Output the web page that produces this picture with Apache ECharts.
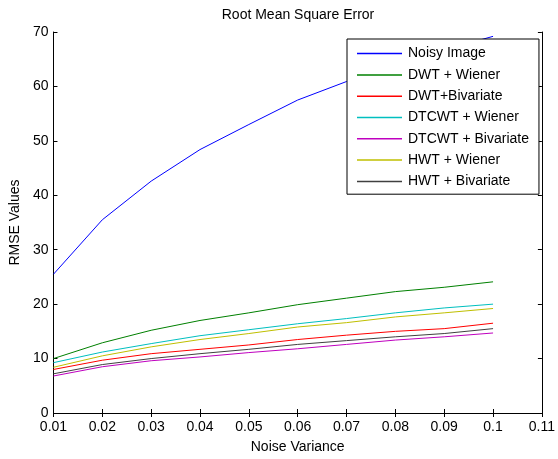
<!DOCTYPE html>
<html>
<head>
<meta charset="utf-8">
<script src="https://cdn.jsdelivr.net/npm/echarts@6/dist/echarts.min.js"></script>
<style>html,body{margin:0;padding:0;background:#fff}#c{width:558px;height:459px}</style>
</head>
<body>
<div id="c"></div>
<script>
const noiseVariance = [0.01, 0.02, 0.03, 0.04, 0.05, 0.06, 0.07, 0.08, 0.09, 0.1];
const seriesNames = ['Noisy Image', 'DWT + Wiener', 'DWT+Bivariate', 'DTCWT + Wiener', 'DTCWT + Bivariate', 'HWT + Wiener', 'HWT + Bivariate'];
const noisyImage = [25.5, 35.5, 42.6, 48.4, 53.0, 57.5, 60.9, 63.9, 66.7, 69.2];
const dwtWiener = [10.0, 12.9, 15.2, 17.0, 18.4, 19.9, 21.1, 22.3, 23.1, 24.1];
const dwtBivariate = [8.0, 9.7, 10.9, 11.7, 12.5, 13.5, 14.3, 15.0, 15.5, 16.5];
const dtcwtWiener = [9.25, 11.2, 12.75, 14.2, 15.3, 16.4, 17.35, 18.4, 19.3, 20.0];
const dtcwtBivariate = [6.8, 8.5, 9.6, 10.3, 11.1, 11.8, 12.6, 13.4, 14.0, 14.7];
const hwtWiener = [8.4, 10.5, 12.15, 13.5, 14.6, 15.8, 16.6, 17.65, 18.4, 19.2];
const hwtBivariate = [7.2, 8.9, 10.0, 10.9, 11.7, 12.6, 13.3, 14.0, 14.6, 15.5];
const xTicks = {min: 0.01, max: 0.11, interval: 0.01};
const yTicks = {min: 0, max: 70, interval: 10};

const allValues = [noisyImage, dwtWiener, dwtBivariate, dtcwtWiener, dtcwtBivariate, hwtWiener, hwtBivariate];
const colors = ['#0000ff', '#008000', '#ff0000', '#00bfbf', '#bf00bf', '#bfbf00', '#404040'];
const font = 'Liberation Sans, Arial, sans-serif';
const fs = 14;

const chart = echarts.init(document.getElementById('c'), null, {renderer: 'canvas'});
const axisCommon = {
  axisLine: {show: true, lineStyle: {color: '#000', width: 1}},
  axisTick: {show: true, inside: true, length: 4, lineStyle: {color: '#000'}},
  splitLine: {show: false}
};
chart.setOption({
  animation: false,
  backgroundColor: '#fff',
  title: {
    text: 'Root Mean Square Error', left: 293, top: 3, textAlign: 'center',
    textStyle: {fontFamily: font, fontSize: fs, fontWeight: 'normal', color: '#000'}
  },
  grid: {left: 52, top: 32, right: 14, bottom: 41, show: false},
  legend: {
    orient: 'vertical', left: 347, top: 39,
    data: seriesNames,
    icon: 'path://M0,0 L45,0 L45,1.5 L0,1.5 Z',
    symbolKeepAspect: true,
    backgroundColor: '#fff', borderColor: '#000', borderWidth: 1, borderRadius: 0,
    padding: [7.6, 10, 5.8, 10],
    itemWidth: 45, itemHeight: 14, itemGap: 7.3,
    textStyle: {fontFamily: font, fontSize: fs, lineHeight: 14, color: '#000', padding: [0, 0, 0, 1]},
    z: 10
  },
  xAxis: [
    Object.assign({
      type: 'value', min: xTicks.min, max: xTicks.max, interval: xTicks.interval,
      name: 'Noise Variance', nameLocation: 'middle', nameGap: 27,
      nameTextStyle: {fontFamily: font, fontSize: fs, color: '#000'},
      axisLabel: {fontFamily: font, fontSize: fs, color: '#000', margin: 7,
        formatter: v => String(+v.toFixed(2))}
    }, axisCommon),
    Object.assign({
      type: 'value', position: 'top', min: xTicks.min, max: xTicks.max, interval: xTicks.interval,
      axisLabel: {show: false}
    }, axisCommon)
  ],
  yAxis: [
    Object.assign({
      type: 'value', min: yTicks.min, max: yTicks.max, interval: yTicks.interval,
      name: 'RMSE Values', nameLocation: 'middle', nameGap: 31,
      nameTextStyle: {fontFamily: font, fontSize: fs, color: '#000'},
      axisLabel: {fontFamily: font, fontSize: fs, color: '#000', margin: 5}
    }, axisCommon),
    Object.assign({
      type: 'value', position: 'right', min: yTicks.min, max: yTicks.max, interval: yTicks.interval,
      axisLabel: {show: false}
    }, axisCommon)
  ],
  series: seriesNames.map((name, i) => ({
    name: name, type: 'line', symbol: 'none', showSymbol: false,
    data: noiseVariance.map((x, j) => [x, allValues[i][j]]),
    lineStyle: {color: colors[i], width: 1},
    itemStyle: {color: colors[i]},
    emphasis: {disabled: true}
  }))
});
</script>
</body>
</html>
